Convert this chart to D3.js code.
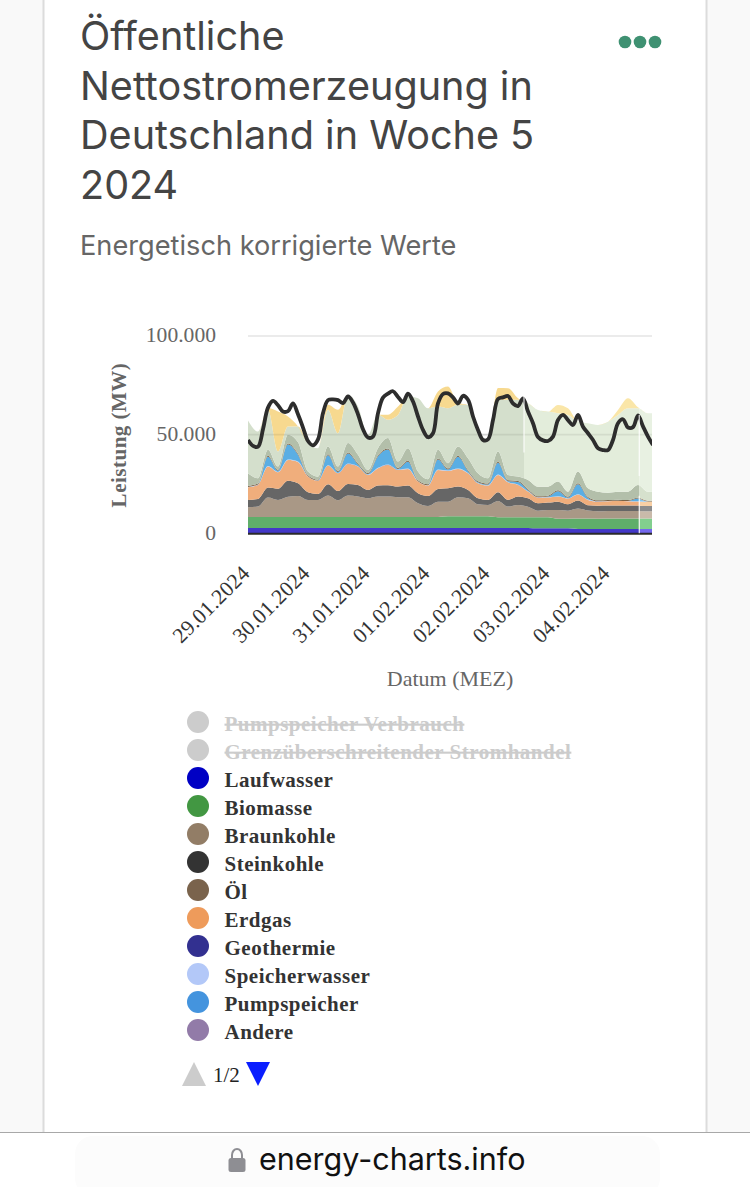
<!DOCTYPE html>
<html><head><meta charset="utf-8">
<script src="https://cdn.jsdelivr.net/npm/d3@7"></script>
<style>html,body{margin:0;padding:0;background:#fff}svg{display:block}</style>
</head><body><svg id="c" width="750" height="1187"></svg>
<script>
const titleLines=["Öffentliche","Nettostromerzeugung in","Deutschland in Woche 5","2024"];
const subtitle="Energetisch korrigierte Werte";
const legendNames=["Pumpspeicher Verbrauch","Grenzüberschreitender Stromhandel","Laufwasser","Biomasse","Braunkohle","Steinkohle","Öl","Erdgas","Geothermie","Speicherwasser","Pumpspeicher","Andere"];
const legendColors=["#cccccc","#cccccc","#0000c4","#429742","#927d66","#333333","#7a634c","#ee9b5b","#323090","#b3c8f8","#4494de","#927ba8"];
const legendHidden=[true,true,false,false,false,false,false,false,false,false,false,false];
const tickDays=["2024-01-29","2024-01-30","2024-01-31","2024-02-01","2024-02-02","2024-02-03","2024-02-04"];
const yTicks=[0,50000,100000];
const startDate="2024-01-29T00:00:00Z", endDate="2024-02-04T17:36:00Z";
const bandStarts=["2024-02-02T14:24:00Z","2024-02-04T12:30:00Z"];
// stacked series, MW, one value every 4 hours
const laufwasser=[2700,2710,2700,2690,2700,2720,2700,2690,2700,2710,2700,2700,2690,2700,2710,2700,2700,2720,2700,2690,2700,2710,2700,2700,2690,2700,2710,2700,2700,2530,2530,2530,2530,2200,2200,2200,2200,2200,2200,2200,2200,2200];
const biomasse=[5580,5580,5600,5580,5560,5580,5590,5580,5580,5570,5580,5590,5580,5580,5600,5580,5580,5570,5580,5580,5910,5910,5900,5910,5920,5410,5410,5420,5410,5580,5580,4900,4900,5240,5240,5230,5240,5240,5250,5240,5240,5240];
const braunkohle=[4900,5240,9800,8620,10310,10650,8620,8620,10820,8450,10820,10310,9460,10310,10310,9970,9970,6930,5580,7770,7440,9630,9130,6080,5750,8280,5410,6250,5410,3380,3720,4390,4060,5070,4060,3720,3890,3890,3890,3890,3720,3720];
const steinkohle=[3720,3890,5070,5750,8110,6420,3890,3040,5750,4730,5920,5920,4230,5580,5750,5410,5920,5070,5070,6420,6760,5410,4230,3040,2540,4390,3380,4230,4230,3720,3720,4230,3210,4060,2700,2870,2700,2700,2700,2700,2700,2700];
const erdgas=[6420,7100,10650,8280,10480,10800,7940,6590,9460,8960,10140,9300,7610,8790,10310,8450,8450,5920,5240,9630,8790,8960,8450,7610,7270,8790,8960,5920,3380,2870,2540,2540,2870,3040,2700,2030,2200,2370,2200,2030,2030,2030];
const geothermie=[30,30,30,30,30,30,30,30,30,30,30,30,30,30,30,30,30,30,30,30,30,30,30,30,30,30,30,30,30,30,30,30,30,30,30,30,30,30,30,30,30,30];
const speicherwasser=[170,160,200,180,220,210,160,150,200,170,210,190,160,200,210,170,190,160,150,200,170,210,180,150,150,200,160,160,160,140,140,160,140,170,140,130,130,130,130,140,130,130];
const pumpspeicher=[0,0,4730,510,7600,3380,0,0,5070,510,5070,850,340,5920,7600,340,3380,0,0,5070,510,5920,850,340,340,5920,340,1350,510,0,340,2540,340,5070,850,0,0,0,0,1350,0,0];
const oel=[500,500,510,500,520,510,500,490,510,500,510,500,500,510,510,500,500,500,490,510,500,510,500,490,490,510,500,500,500,490,490,500,490,500,490,490,490,490,490,490,490,490];
const andere=[6420,2700,3040,1690,4400,5890,1860,1520,3890,2200,4730,4390,1520,3550,5240,3210,6420,4390,2540,4390,2700,4730,6080,4060,2700,5240,2700,2200,4730,4900,4560,4390,2540,5920,4390,4390,3720,4060,4230,6420,4560,4560];
const windUndWeitere=[26700,23660,20280,7600,4230,7990,14370,14370,18590,16900,24510,24510,17750,16900,9300,23660,26200,37180,36000,21970,27890,21130,27040,21970,19440,26200,38030,38870,38870,38870,38030,34650,38870,25350,32960,33800,36000,38870,42250,38870,39720,39720];
const solar=[0,0,850,20280,5070,0,0,0,2540,11830,0,0,0,0,2540,4230,0,0,0,7600,10990,850,0,0,0,5920,5920,850,0,0,0,4230,3380,0,0,0,0,2540,5070,510,0,0];
// load line, MW, one value every 2 hours
const last=[47300,44300,43900,52700,63700,67100,64900,61700,61900,65800,60300,53600,46800,44600,47600,60900,67500,67900,67500,66000,69400,66300,60300,52700,48500,49000,60900,68800,70800,72000,69100,66500,70800,66800,59200,52400,48700,50700,65800,70600,70900,68900,65800,69700,67700,59200,52400,47300,47600,57400,68100,68900,69600,65800,64500,68400,61700,55800,48800,47100,46800,49000,57400,60000,57400,54900,60000,54000,50700,47300,43100,42200,42200,47300,55800,57800,53600,53800,59700,54200,49000,44800];
// colours per time band: [before first boundary, between, after]
const layers=[
 {name:"Laufwasser",v:laufwasser,c:["#4338c8","#4338c8","#7468ee"]},
 {name:"Biomasse",v:biomasse,c:["#5fae6a","#5fae6a","#82cf8e"]},
 {name:"Braunkohle",v:braunkohle,c:["#a99886","#a99886","#c9baaa"]},
 {name:"Steinkohle",v:steinkohle,c:["#666666","#666666","#8c8c8c"]},
 {name:"Erdgas",v:erdgas,c:["#f0ae7c","#f0ae7c","#f8cfa4"]},
 {name:"Geothermie",v:geothermie,c:["#6a68b0","#6a68b0","#9a98c8"]},
 {name:"Speicherwasser",v:speicherwasser,c:["#b3c8f8","#b3c8f8","#d0dcf8"]},
 {name:"Pumpspeicher",v:pumpspeicher,c:["#5aaee4","#5aaee4","#84c8f0"]},
 {name:"Oel",v:oel,c:["#7a6348","#7a6348","#a48e74"]},
 {name:"Andere",v:andere,c:["#b3bfaa","#b3bfaa","#d6e1cd"]},
 {name:"Wind",v:windUndWeitere,c:["#d4dfcc","#e3eddb","#e8f1e2"]},
 {name:"Solar",v:solar,c:["#f7d98f","#fae6a8","#fbeab4"]}
];

const svg=d3.select("#c");
const serif="'Liberation Serif',serif", sans="Inter,Roboto,sans-serif";
// page frame
svg.append("rect").attr("width",750).attr("height",1187).attr("fill","#f9f9f9");
svg.append("rect").attr("x",43.5).attr("y",-5).attr("width",663).attr("height",1200).attr("fill","#fff").attr("stroke","#dcdcdc").attr("stroke-width",2);
// title
svg.selectAll("text.t").data(titleLines).join("text").attr("class","t").attr("x",80).attr("y",(d,i)=>50+i*49.7)
 .attr("font-family",sans).attr("font-size",39.6).attr("fill","#444").text(d=>d);
svg.append("text").attr("x",80).attr("y",255).attr("font-family",sans).attr("font-size",27.2).attr("fill","#666").text(subtitle);
svg.selectAll("circle.m").data([625,640,655]).join("circle").attr("class","m").attr("cx",d=>d).attr("cy",42).attr("r",6.3).attr("fill","#3f9172");

// scales
const x=d3.scaleUtc().domain([new Date(startDate),new Date(endDate)]).range([248,652]);
const y=d3.scaleLinear().domain([0,100000]).range([533.3,336]);
const t0=+new Date(startDate), H=3600000;
const stackT=laufwasser.map((_,i)=>new Date(t0+i*4*H));
const lastT=last.map((_,i)=>new Date(t0+i*2*H));
const rows=stackT.map((t,i)=>{const r={t};layers.forEach(l=>r[l.name]=l.v[i]);return r;});
const stacked=d3.stack().keys(layers.map(l=>l.name))(rows);

// clips
const edges=[x.range()[0],x(new Date(bandStarts[0])),x(new Date(bandStarts[1])),x.range()[1]];
const defs=svg.append("defs");
[0,1,2].forEach(b=>defs.append("clipPath").attr("id","band"+b).append("rect").attr("x",edges[b]).attr("y",300).attr("width",edges[b+1]-edges[b]).attr("height",260));
defs.append("clipPath").attr("id","plot").append("rect").attr("x",248).attr("y",300).attr("width",404).attr("height",260);

// grid under
const gAxisY=svg.append("g").attr("transform","translate(248,-1.2)")
 .call(d3.axisLeft(y).tickValues(yTicks).tickSize(0).tickPadding(32).tickFormat(d=>d3.format(",")(d).replace(/,/g,".")));
gAxisY.select(".domain").remove();
gAxisY.selectAll("text").attr("font-family",serif).attr("font-size",21.6).attr("fill","#666");
svg.append("g").selectAll("line").data(yTicks.slice(1)).join("line").attr("x1",248).attr("x2",652).attr("y1",d=>y(d)).attr("y2",d=>y(d)).attr("stroke","#e4e4e4").attr("stroke-width",1.6);

// areas
const area=d3.area().x(d=>x(d.data.t)).y0(d=>y(d[0])).y1(d=>y(d[1])).curve(d3.curveMonotoneX);
[0,1,2].forEach(b=>{
 const g=svg.append("g").attr("clip-path",`url(#band${b})`);
 g.selectAll("path").data(stacked).join("path").attr("d",area).attr("fill",(s,i)=>layers[i].c[b]);
});
// grid over the fills
svg.append("line").attr("x1",248).attr("x2",652).attr("y1",y(50000)).attr("y2",y(50000)).attr("stroke","#000").attr("stroke-opacity",.07).attr("stroke-width",1.6);
// base line
svg.append("line").attr("x1",248).attr("x2",652).attr("y1",y(0)+.5).attr("y2",y(0)+.5).attr("stroke","#2a2a2a").attr("stroke-width",2);
// load line
const line=d3.line().x((d,i)=>x(lastT[i])).y(d=>y(d)).curve(d3.curveCatmullRom.alpha(.5));
svg.append("path").attr("clip-path","url(#plot)").attr("d",line(last)).attr("fill","none").attr("stroke","#2d2d2d").attr("stroke-width",3.8).attr("stroke-linejoin","round");
// hover band separators
const sep=[[edges[1],41000,72000],[edges[2],0,19000],[edges[2],29000,60000]];
svg.append("g").selectAll("line").data(sep).join("line").attr("x1",d=>d[0]).attr("x2",d=>d[0]).attr("y1",d=>y(d[1])).attr("y2",d=>y(d[2])).attr("stroke","#fff").attr("stroke-opacity",.85).attr("stroke-width",1.2);

// x axis
const gx=svg.append("g").attr("transform","translate(0,533)")
 .call(d3.axisBottom(x).tickValues(tickDays.map(d=>new Date(d+"T00:00:00Z"))).tickSize(0).tickFormat(d3.utcFormat("%d.%m.%Y")));
gx.select(".domain").remove();
gx.selectAll("text").attr("font-family",serif).attr("font-size",21.5).attr("letter-spacing",.2).attr("fill","#333")
 .attr("text-anchor","end").attr("dy",0).attr("y",0).attr("transform","translate(-1,38) rotate(-45)").attr("dominant-baseline","middle");
svg.append("text").attr("x",450).attr("y",686).attr("text-anchor","middle").attr("font-family",serif).attr("font-size",22).attr("fill","#666").text("Datum (MEZ)");
svg.append("text").attr("transform","translate(126,435) rotate(-90)").attr("text-anchor","middle").attr("font-family",serif).attr("font-weight","bold").attr("font-size",21).attr("letter-spacing",.5).attr("fill","#666").text("Leistung (MW)");

// legend
const lg=svg.append("g").selectAll("g").data(legendNames).join("g").attr("transform",(d,i)=>`translate(0,${722+i*28})`);
lg.append("circle").attr("cx",198).attr("r",11).attr("fill",(d,i)=>legendColors[i]);
lg.append("text").attr("x",224.5).attr("y",9).attr("font-family",serif).attr("font-weight","bold").attr("font-size",21).attr("letter-spacing",.5)
 .attr("fill",(d,i)=>legendHidden[i]?"#cccccc":"#333").attr("text-decoration",(d,i)=>legendHidden[i]?"line-through":null).text(d=>d);
// pager
svg.append("path").attr("d","M182,1086L194,1062L206,1086Z").attr("fill","#cccccc");
svg.append("text").attr("x",213).attr("y",1082).attr("font-family",serif).attr("font-size",21).attr("fill","#222").text("1/2");
svg.append("path").attr("d","M246,1062L270,1062L258,1086Z").attr("fill","#0a1eff");

// browser bar
svg.append("rect").attr("x",0).attr("y",1132).attr("width",750).attr("height",55).attr("fill","#fff");
svg.append("rect").attr("x",75).attr("y",1136).attr("width",585).attr("height",60).attr("rx",18).attr("fill","#fcfcfc");
svg.append("line").attr("x1",0).attr("x2",750).attr("y1",1132.5).attr("y2",1132.5).attr("stroke","#a8a8a8");
svg.append("rect").attr("x",228.5).attr("y",1158).attr("width",17).attr("height",14).attr("rx",2.5).attr("fill","#8e8e93");
svg.append("path").attr("d","M232,1158V1155a5,6 0 0 1 10,0V1158").attr("fill","none").attr("stroke","#8e8e93").attr("stroke-width",2);
svg.append("text").attr("x",259).attr("y",1170).attr("font-family",sans).attr("font-size",30.5).attr("fill","#111").text("energy-charts.info");
</script></body></html>
